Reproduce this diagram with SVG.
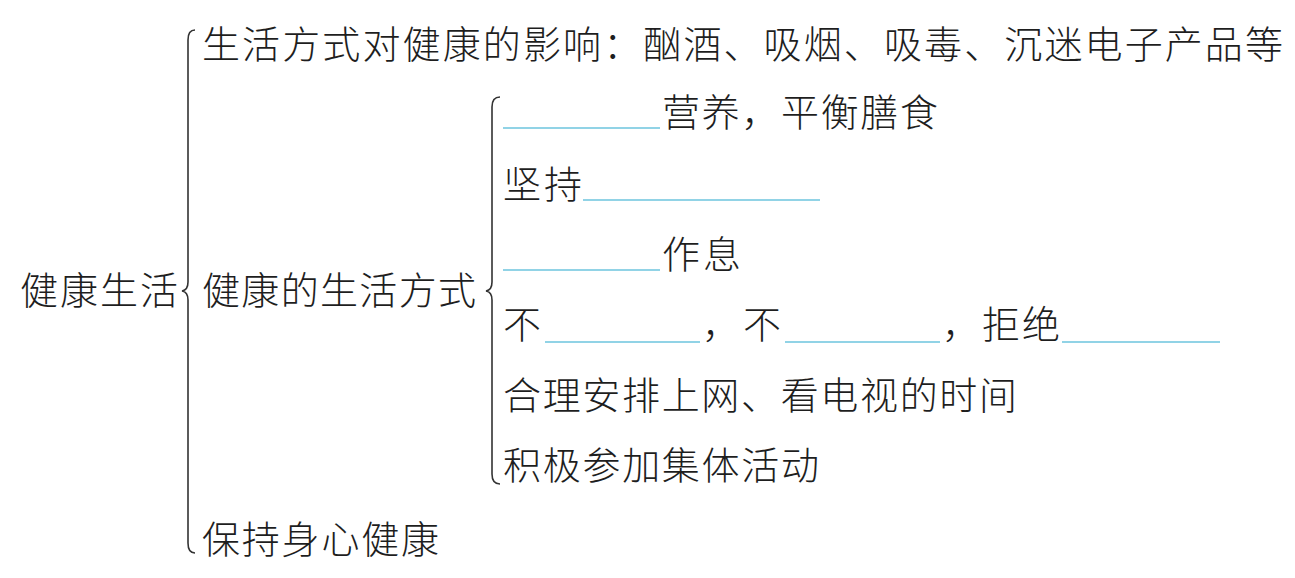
<svg xmlns="http://www.w3.org/2000/svg" width="1295" height="578" viewBox="0 0 1295 578">
<style>
text{font-family:"Noto Sans CJK SC","Noto Sans",sans-serif;font-size:38px;fill:#1e1e1e;font-weight:300;}
.br{fill:none;stroke:#333;stroke-width:1.6;}
.bl{stroke:#6cc4de;stroke-width:1.6;}
</style>
<rect width="1295" height="578" fill="#fff"/>
<g id="connectors">
<path class="br" d="M195,30 Q188,30 188,40 L188,282 Q188,290 182,291 Q188,292 188,300 L188,543 Q188,553 195,553"/>
<path class="br" d="M500,97 Q492,97 492,107 L492,282 Q492,290 486,291 Q492,292 492,300 L492,474 Q492,484 500,484"/>
</g>
<g id="root"><text x="20" y="304" textLength="158" lengthAdjust="spacing">健康生活</text></g>
<g id="n1"><text x="202" y="58" textLength="1081" lengthAdjust="spacing">生活方式对健康的影响：酗酒、吸烟、吸毒、沉迷电子产品等</text></g>
<g id="n2"><text x="202" y="304" textLength="274" lengthAdjust="spacing">健康的生活方式</text></g>
<g id="n3"><text x="202" y="553" textLength="237" lengthAdjust="spacing">保持身心健康</text></g>
<g id="c1"><line class="bl" x1="503" y1="128" x2="660" y2="128"/><text x="662" y="126" textLength="276" lengthAdjust="spacing">营养，平衡膳食</text></g>
<g id="c2"><text x="503" y="198" textLength="79" lengthAdjust="spacing">坚持</text><line class="bl" x1="583" y1="200" x2="820" y2="200"/></g>
<g id="c3"><line class="bl" x1="503" y1="270" x2="660" y2="270"/><text x="662" y="268" textLength="79" lengthAdjust="spacing">作息</text></g>
<g id="c4"><text x="503" y="338">不</text><line class="bl" x1="545" y1="342" x2="700" y2="342"/><text x="702" y="338" textLength="79" lengthAdjust="spacing">，不</text><line class="bl" x1="785" y1="342" x2="940" y2="342"/><text x="942" y="338" textLength="118" lengthAdjust="spacing">，拒绝</text><line class="bl" x1="1062" y1="342" x2="1220" y2="342"/></g>
<g id="c5"><text x="503" y="409" textLength="514" lengthAdjust="spacing">合理安排上网、看电视的时间</text></g>
<g id="c6"><text x="503" y="479" textLength="316" lengthAdjust="spacing">积极参加集体活动</text></g>
</svg>
